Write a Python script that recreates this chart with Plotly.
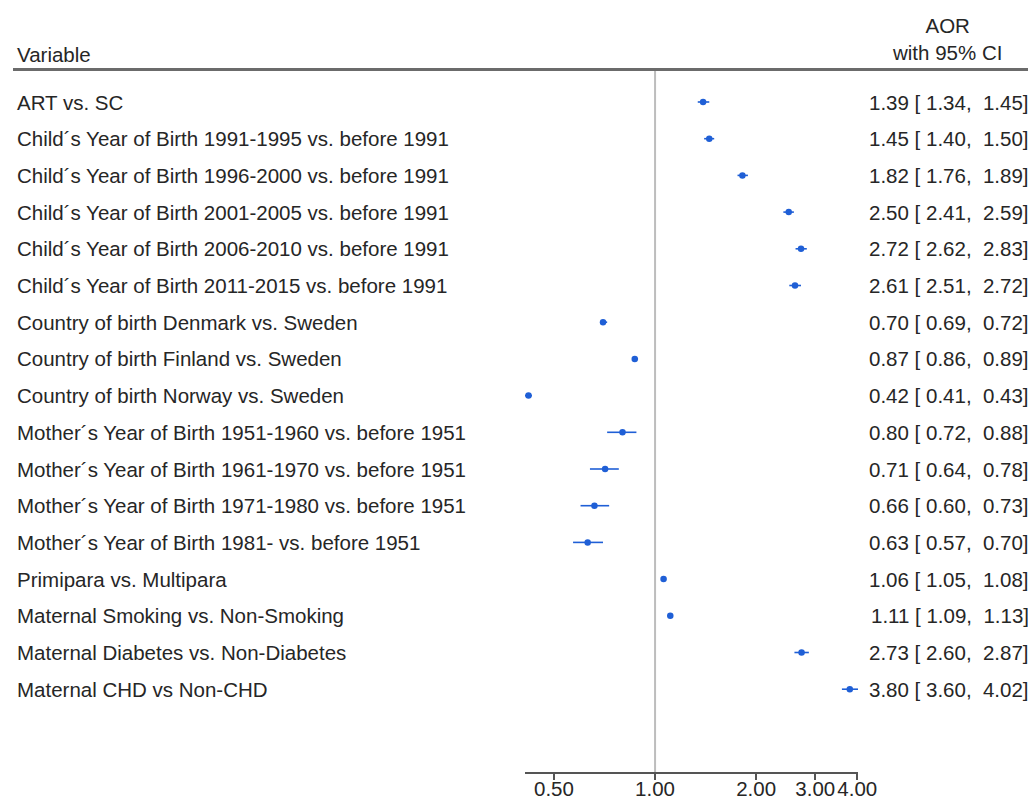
import plotly.graph_objects as go

# Adjusted odds ratios with 95% confidence intervals
variables = [
    "ART vs. SC",
    "Child\u00b4s Year of Birth 1991-1995 vs. before 1991",
    "Child\u00b4s Year of Birth 1996-2000 vs. before 1991",
    "Child\u00b4s Year of Birth 2001-2005 vs. before 1991",
    "Child\u00b4s Year of Birth 2006-2010 vs. before 1991",
    "Child\u00b4s Year of Birth 2011-2015 vs. before 1991",
    "Country of birth Denmark vs. Sweden",
    "Country of birth Finland vs. Sweden",
    "Country of birth Norway vs. Sweden",
    "Mother\u00b4s Year of Birth 1951-1960 vs. before 1951",
    "Mother\u00b4s Year of Birth 1961-1970 vs. before 1951",
    "Mother\u00b4s Year of Birth 1971-1980 vs. before 1951",
    "Mother\u00b4s Year of Birth 1981- vs. before 1951",
    "Primipara vs. Multipara",
    "Maternal Smoking vs. Non-Smoking",
    "Maternal Diabetes vs. Non-Diabetes",
    "Maternal CHD vs Non-CHD",
]
aor = [1.39, 1.45, 1.82, 2.50, 2.72, 2.61, 0.70, 0.87, 0.42,
       0.80, 0.71, 0.66, 0.63, 1.06, 1.11, 2.73, 3.80]
ci_low = [1.34, 1.40, 1.76, 2.41, 2.62, 2.51, 0.69, 0.86, 0.41,
          0.72, 0.64, 0.60, 0.57, 1.05, 1.09, 2.60, 3.60]
ci_high = [1.45, 1.50, 1.89, 2.59, 2.83, 2.72, 0.72, 0.89, 0.43,
           0.88, 0.78, 0.73, 0.70, 1.08, 1.13, 2.87, 4.02]

tick_vals = [0.5, 1, 2, 3, 4]
tick_text = ["0.50", "1.00", "2.00", "3.00", "4.00"]

W, H = 1028, 806
AXIS_PX = 772          # pixel row of the x-axis line
ROW0_PX, ROW_STEP = 102, 36.7

BLUE = "#1f5fd6"
TXT = "#262626"
FONT = "Arial, Liberation Sans, sans-serif"
FS = 20.5


def py(p):
    """pixel row -> paper y (plot area spans pixel 0..AXIS_PX)"""
    return (AXIS_PX - p) / AXIS_PX


def px(p):
    return p / W


rows = list(range(len(variables)))
y_top = (0 - ROW0_PX) / ROW_STEP
y_bot = (AXIS_PX - ROW0_PX) / ROW_STEP

fig = go.Figure()
fig.add_trace(go.Scatter(
    x=aor, y=rows, mode="markers",
    marker=dict(color=BLUE, size=6.5, symbol="circle"),
    error_x=dict(type="data", symmetric=False,
                 array=[h - a for h, a in zip(ci_high, aor)],
                 arrayminus=[a - l for a, l in zip(aor, ci_low)],
                 color=BLUE, thickness=1.6, width=0),
    showlegend=False, hoverinfo="skip",
))

ann = []
nb = "\u00a0"
for i, (v, a, lo, hi) in enumerate(zip(variables, aor, ci_low, ci_high)):
    ann.append(dict(x=px(15), y=i, xref="paper", yref="y", text=v,
                    xanchor="left", yanchor="middle", showarrow=False,
                    font=dict(size=FS, color=TXT, family=FONT)))
    ann.append(dict(x=px(1031), y=i, xref="paper", yref="y",
                    text=f"{a:.2f}{nb}[{nb}{lo:.2f},{nb}{nb}{hi:.2f}]",
                    xanchor="right", yanchor="middle", showarrow=False,
                    font=dict(size=FS, color=TXT, family=FONT)))

ann.append(dict(x=px(15), y=py(54), xref="paper", yref="paper", text="Variable",
                xanchor="left", yanchor="middle", showarrow=False,
                font=dict(size=FS, color=TXT, family=FONT)))
ann.append(dict(x=px(947), y=py(39), xref="paper", yref="paper",
                text="AOR<br>with 95% CI", align="center",
                xanchor="center", yanchor="middle", showarrow=False,
                font=dict(size=FS, color=TXT, family=FONT)))

shapes = [
    dict(type="line", xref="paper", yref="paper", x0=px(13), x1=1.0,
         y0=py(69.5), y1=py(69.5), line=dict(color="#6b6b6b", width=3)),
    dict(type="line", xref="x", yref="paper", x0=1, x1=1,
         y0=0, y1=py(71), line=dict(color="#bdbdbd", width=2), layer="below"),
]

fig.update_layout(
    width=W, height=H,
    margin=dict(l=0, r=0, t=0, b=H - AXIS_PX, pad=0, autoexpand=False),
    paper_bgcolor="white", plot_bgcolor="white",
    annotations=ann, shapes=shapes,
    xaxis=dict(type="log", domain=[px(525), px(858)],
               range=[-0.3872, 0.6042],
               tickvals=tick_vals, ticktext=tick_text,
               ticks="outside", ticklen=6, tickwidth=2, tickcolor="#555555",
               ticklabelstandoff=-9,
               showline=True, linecolor="#555555", linewidth=2,
               showgrid=False, zeroline=False,
               tickfont=dict(size=FS, color=TXT, family=FONT)),
    yaxis=dict(range=[y_bot, y_top], visible=False, showgrid=False,
               zeroline=False),
)

fig.write_html("out.html")
